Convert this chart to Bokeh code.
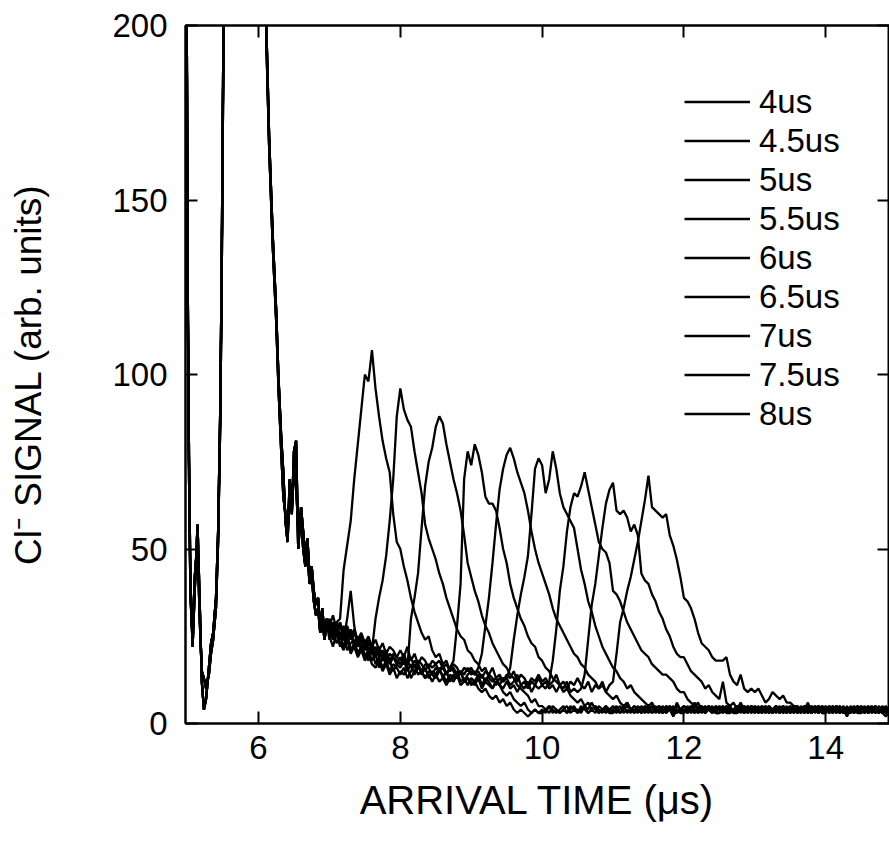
import numpy as np
from bokeh.plotting import figure
from bokeh.models import Range1d, LinearAxis, FixedTicker, Legend, LegendItem, CustomJSTickFormatter
from bokeh.embed import file_html
from bokeh.resources import INLINE

FONT = "Liberation Sans"

LABELS = ["4us", "4.5us", "5us", "5.5us", "6us", "6.5us", "7us", "7.5us", "8us"]
X_TICKS = [6, 8, 10, 12, 14]
Y_TICKS = [0, 50, 100, 150, 200]

# early part of the signal (shared by all traces, two variants)
EARLY_X = [4.97, 4.99, 5.0, 5.02, 5.04, 5.07, 5.1, 5.14, 5.17, 5.2,
           5.23, 5.26, 5.3, 5.33, 5.36, 5.4, 5.43, 5.46, 5.48, 5.5,
           5.52, 5.6, 5.8, 6.0, 6.08, 6.11, 6.15, 6.2, 6.25, 6.28,
           6.32, 6.35, 6.38, 6.41, 6.44, 6.47, 6.5, 6.53, 6.56, 6.6,
           6.63, 6.66, 6.69, 6.72, 6.75, 6.78, 6.81, 6.84, 6.87, 6.9,
           6.93, 6.96]
EARLY_Y1 = [260, 190, 130, 75, 40, 22, 38, 57, 35, 12,
            4, 7, 16, 23, 26, 36, 55, 90, 130, 185,
            240, 500, 700, 500, 260, 200, 168, 140, 118, 100,
            82, 72, 58, 52, 70, 60, 78, 81, 50, 62,
            55, 48, 53, 42, 45, 38, 34, 36, 27, 33,
            25, 30]
EARLY_Y2 = [255, 185, 125, 70, 36, 25, 42, 52, 30, 15,
            13, 10, 14, 20, 24, 33, 52, 86, 125, 180,
            235, 500, 700, 500, 255, 196, 165, 137, 115, 97,
            78, 65, 60, 55, 66, 62, 72, 68, 56, 58,
            50, 45, 49, 40, 42, 35, 31, 33, 26, 30,
            24, 28]

# main part: samples every 0.05 us from 7.00 to 14.95 (10 samples per row = 0.5 us)
T_START = 7.0
T_STEP = 0.05

S_4 = [
    28, 25, 29, 30, 44, 51, 58, 70, 80, 90,
    100, 98, 107, 96, 88, 81, 76, 72, 60, 52,
    50, 45, 41, 36, 32, 29, 26, 24, 25, 21,
    19, 20, 17, 18, 15, 16, 14, 15, 12, 13,
    11, 12, 10, 9, 10, 8, 7, 8, 6, 7,
    5, 6, 4, 3, 4, 3, 2, 3, 4, 3,
    4, 3, 5, 4, 3, 4, 5, 3, 4, 5,
    3, 4, 5, 3, 4, 3, 5, 4, 3, 4,
    5, 4, 3, 4, 6, 4, 3, 5, 4, 3,
    4, 5, 3, 4, 3, 5, 4, 2, 4, 3,
    3, 5, 4, 6, 4, 3, 4, 5, 3, 4,
    4, 3, 4, 5, 3, 4, 6, 4, 5, 3,
    5, 4, 3, 4, 5, 3, 4, 4, 3, 5,
    3, 4, 5, 3, 4, 6, 3, 4, 3, 4,
    4, 3, 4, 5, 4, 3, 5, 3, 4, 3,
    3, 4, 3, 4, 5, 3, 4, 5, 3, 4,
]
S_45 = [
    27, 29, 26, 28, 25, 27, 24, 26, 23, 25,
    22, 24, 21, 30, 36, 41, 48, 58, 70, 88,
    96, 90, 87, 85, 78, 72, 66, 57, 53, 50,
    47, 43, 40, 36, 33, 30, 27, 25, 24, 21,
    20, 18, 17, 15, 16, 13, 12, 13, 11, 9,
    8, 9, 7, 6, 5, 6, 4, 3, 4, 3,
    3, 4, 3, 5, 4, 3, 4, 3, 5, 4,
    4, 3, 5, 4, 6, 4, 3, 4, 5, 3,
    3, 4, 5, 3, 4, 3, 5, 4, 3, 4,
    5, 3, 4, 4, 3, 5, 4, 3, 6, 4,
    4, 3, 5, 3, 4, 4, 3, 5, 4, 3,
    3, 4, 4, 5, 3, 3, 4, 3, 5, 4,
    4, 5, 3, 4, 3, 4, 5, 3, 4, 3,
    4, 3, 4, 3, 5, 4, 3, 5, 4, 3,
    3, 5, 3, 4, 3, 4, 3, 4, 5, 4,
    4, 3, 5, 3, 4, 4, 3, 4, 3, 5,
]
S_5 = [
    29, 26, 28, 24, 27, 25, 26, 22, 24, 21,
    23, 20, 22, 19, 21, 18, 20, 17, 19, 18,
    17, 19, 16, 30, 36, 43, 56, 68, 75, 79,
    85, 88, 86, 80, 75, 70, 66, 61, 54, 46,
    42, 38, 35, 31, 28, 26, 23, 21, 19, 17,
    16, 14, 13, 11, 10, 9, 8, 6, 7, 5,
    5, 4, 5, 3, 4, 3, 4, 5, 3, 4,
    3, 5, 4, 3, 4, 5, 3, 4, 4, 3,
    4, 3, 4, 5, 3, 4, 4, 3, 5, 4,
    3, 4, 5, 3, 4, 3, 4, 5, 3, 4,
    5, 4, 3, 4, 3, 5, 4, 4, 3, 5,
    4, 5, 3, 4, 4, 3, 5, 3, 4, 4,
    3, 4, 4, 3, 5, 4, 3, 4, 5, 3,
    5, 4, 3, 4, 3, 4, 5, 3, 4, 5,
    4, 4, 3, 5, 4, 3, 4, 4, 3, 4,
    5, 3, 4, 4, 3, 5, 4, 3, 4, 3,
]
S_55 = [
    26, 28, 25, 29, 24, 30, 38, 28, 22, 24,
    21, 23, 20, 22, 19, 21, 18, 20, 19, 17,
    19, 17, 18, 16, 18, 17, 15, 17, 16, 14,
    16, 15, 17, 14, 16, 18, 28, 40, 70, 78,
    74, 80, 77, 72, 65, 63, 63, 61, 56, 50,
    46, 40, 36, 33, 30, 28, 25, 23, 22, 19,
    18, 16, 15, 13, 12, 11, 9, 10, 8, 7,
    6, 7, 5, 6, 4, 5, 4, 3, 5, 4,
    4, 5, 3, 4, 5, 4, 3, 4, 3, 5,
    4, 3, 4, 5, 4, 3, 5, 4, 3, 4,
    3, 4, 5, 4, 3, 4, 3, 5, 4, 4,
    5, 4, 3, 3, 4, 5, 4, 3, 4, 5,
    4, 3, 5, 4, 4, 3, 4, 5, 3, 4,
    3, 5, 4, 4, 3, 4, 3, 4, 5, 4,
    5, 4, 3, 4, 5, 3, 4, 3, 4, 5,
    4, 4, 5, 3, 4, 3, 5, 4, 4, 3,
]
S_6 = [
    25, 22, 26, 23, 21, 24, 20, 22, 19, 21,
    18, 20, 17, 16, 18, 15, 17, 14, 16, 13,
    15, 14, 16, 13, 15, 17, 14, 16, 13, 15,
    14, 16, 13, 15, 12, 14, 13, 15, 12, 14,
    15, 14, 16, 20, 28, 36, 46, 57, 67, 73,
    77, 79, 76, 72, 69, 66, 61, 55, 50, 46,
    43, 40, 37, 33, 30, 28, 26, 24, 22, 20,
    19, 17, 16, 14, 13, 12, 10, 11, 9, 8,
    7, 8, 6, 5, 6, 4, 5, 4, 3, 5,
    4, 5, 4, 3, 5, 4, 4, 3, 5, 4,
    4, 3, 4, 5, 4, 5, 3, 4, 4, 3,
    3, 4, 5, 4, 3, 4, 4, 5, 3, 4,
    5, 3, 4, 3, 4, 4, 5, 4, 3, 4,
    4, 4, 3, 5, 4, 3, 4, 4, 5, 3,
    3, 4, 5, 3, 4, 4, 3, 5, 4, 4,
    4, 5, 3, 4, 4, 3, 4, 3, 5, 4,
]
S_65 = [
    27, 24, 26, 22, 25, 21, 23, 24, 20, 22,
    19, 21, 18, 20, 16, 19, 17, 18, 15, 17,
    16, 18, 15, 17, 14, 16, 15, 13, 15, 14,
    13, 15, 14, 12, 14, 13, 15, 12, 13, 11,
    13, 12, 14, 11, 13, 12, 10, 12, 11, 13,
    13, 16, 24, 31, 37, 42, 48, 60, 73, 76,
    74, 66, 70, 78, 73, 66, 62, 60, 58, 56,
    50, 44, 40, 35, 32, 28, 25, 22, 20, 18,
    16, 15, 13, 12, 10, 11, 9, 8, 7, 6,
    5, 6, 4, 5, 3, 4, 5, 3, 4, 4,
    5, 4, 4, 3, 5, 4, 3, 4, 5, 3,
    4, 3, 5, 4, 4, 3, 4, 5, 4, 3,
    4, 4, 3, 5, 3, 4, 4, 3, 5, 4,
    3, 4, 4, 3, 4, 5, 3, 4, 4, 5,
    4, 3, 4, 4, 5, 3, 4, 4, 3, 4,
    3, 4, 4, 5, 3, 4, 3, 4, 4, 3,
]
S_7 = [
    24, 27, 23, 25, 22, 26, 21, 23, 20, 22,
    20, 18, 21, 17, 19, 16, 18, 15, 17, 16,
    14, 16, 13, 15, 17, 14, 15, 13, 14, 12,
    14, 12, 13, 11, 13, 12, 14, 11, 12, 13,
    12, 11, 13, 10, 12, 11, 10, 12, 11, 10,
    12, 10, 11, 9, 11, 10, 12, 9, 11, 10,
    11, 10, 12, 18, 27, 38, 45, 55, 62, 66,
    65, 68, 72, 67, 62, 57, 52, 50, 49, 46,
    38, 37, 35, 32, 29, 27, 25, 23, 21, 20,
    19, 17, 16, 15, 14, 14, 13, 12, 10, 9,
    9, 7, 6, 5, 6, 4, 5, 4, 3, 5,
    4, 5, 4, 3, 4, 5, 3, 4, 4, 5,
    3, 4, 5, 4, 3, 4, 5, 3, 4, 4,
    5, 3, 4, 4, 5, 3, 4, 5, 3, 4,
    4, 5, 4, 3, 4, 5, 3, 4, 4, 3,
    5, 4, 3, 4, 5, 4, 4, 3, 4, 5,
]
S_75 = [
    30, 27, 29, 25, 28, 24, 27, 23, 25, 22,
    24, 21, 23, 20, 22, 19, 21, 18, 20, 19,
    18, 20, 17, 19, 16, 18, 17, 15, 17, 16,
    17, 15, 16, 14, 16, 15, 13, 15, 14, 16,
    14, 15, 13, 14, 12, 14, 13, 11, 13, 12,
    13, 11, 12, 14, 11, 12, 10, 12, 11, 13,
    11, 12, 10, 11, 9, 11, 10, 12, 9, 10,
    9, 10, 14, 24, 34, 40, 48, 56, 63, 67,
    69, 61, 60, 61, 59, 55, 57, 54, 43, 41,
    40, 37, 35, 32, 30, 27, 25, 22, 20, 19,
    19, 17, 15, 14, 13, 12, 10, 11, 9, 8,
    7, 12, 6, 5, 6, 4, 5, 4, 3, 5,
    4, 3, 4, 5, 4, 3, 4, 4, 5, 3,
    4, 5, 3, 4, 4, 3, 5, 4, 3, 4,
    3, 4, 4, 5, 3, 4, 4, 3, 4, 5,
    4, 3, 4, 4, 5, 3, 4, 4, 3, 4,
]
S_8 = [
    28, 31, 27, 29, 26, 28, 25, 27, 24, 26,
    23, 25, 22, 24, 21, 23, 20, 22, 21, 19,
    21, 19, 22, 18, 20, 17, 19, 18, 16, 18,
    17, 18, 16, 17, 15, 17, 16, 14, 16, 15,
    16, 14, 15, 13, 15, 14, 16, 13, 14, 12,
    14, 13, 15, 12, 14, 13, 11, 13, 12, 14,
    12, 13, 11, 12, 14, 11, 12, 10, 12, 11,
    13, 11, 10, 12, 9, 11, 10, 12, 9, 11,
    12, 20, 29, 33, 38, 42, 47, 52, 58, 64,
    71, 62, 61, 60, 59, 60, 54, 51, 47, 42,
    36, 35, 33, 30, 26, 23, 22, 21, 19, 18,
    18, 18, 19, 14, 12, 11, 14, 10, 9, 10,
    9, 10, 8, 6, 7, 9, 8, 7, 8, 6,
    6, 5, 5, 4, 5, 4, 3, 4, 5, 3,
    4, 3, 5, 4, 3, 4, 2, 4, 3, 4,
    3, 4, 3, 5, 3, 4, 3, 2, 4, 3,
]

SERIES = [S_4, S_45, S_5, S_55, S_6, S_65, S_7, S_75, S_8]

p = figure(width=889, height=850,
           x_range=Range1d(4.97, 14.9), y_range=Range1d(0, 200),
           output_backend="svg", toolbar_location=None,
           min_border_left=185, min_border_right=0,
           min_border_top=25, min_border_bottom=127)
p.grid.visible = False
p.outline_line_color = "black"
p.outline_line_width = 2
p.background_fill_color = "white"
p.border_fill_color = "white"

items = []
for i, (lab, s) in enumerate(zip(LABELS, SERIES)):
    t_main = [round(T_START + T_STEP * k, 2) for k in range(len(s))]
    early = EARLY_Y1 if i % 2 == 0 else EARLY_Y2
    xs = list(EARLY_X) + t_main
    ys = list(early) + list(s)
    r = p.line(xs, ys, line_color="black", line_width=2.3)
    items.append(LegendItem(label=lab, renderers=[r]))

def style_axis(ax, ticks, show_labels=True):
    ax.ticker = FixedTicker(ticks=ticks)
    ax.axis_line_width = 2
    ax.axis_line_color = "black"
    ax.major_tick_line_width = 2
    ax.major_tick_line_color = "black"
    ax.major_tick_in = 12
    ax.major_tick_out = 0
    ax.minor_tick_in = 0
    ax.minor_tick_out = 0
    ax.major_label_text_font = FONT
    ax.major_label_text_color = "black"
    ax.major_label_text_font_size = "33px"
    if not show_labels:
        ax.formatter = CustomJSTickFormatter(code="return '';")
        ax.major_label_standoff = 0

xax = p.xaxis[0]
yax = p.yaxis[0]
style_axis(xax, X_TICKS)
style_axis(yax, Y_TICKS)
xax.major_label_standoff = 12
yax.major_label_standoff = 18
xax.axis_label = "ARRIVAL TIME (\u03bcs)"
yax.axis_label = "Cl\u207b SIGNAL (arb. units)"
for ax in (xax, yax):
    ax.axis_label_text_font = FONT
    ax.axis_label_text_font_style = "normal"
    ax.axis_label_text_color = "black"
xax.axis_label_text_font_size = "40px"
yax.axis_label_text_font_size = "37px"
xax.axis_label_standoff = 16
yax.axis_label_standoff = 60

top = LinearAxis()
style_axis(top, X_TICKS, show_labels=False)
p.add_layout(top, "above")
right = LinearAxis()
style_axis(right, Y_TICKS, show_labels=False)
p.add_layout(right, "right")

legend = Legend(items=items, location=(499, 290),
                glyph_width=66, glyph_height=39, label_height=39,
                spacing=0, padding=0, margin=0, label_standoff=9,
                label_text_font=FONT, label_text_font_size="33px",
                label_text_color="black",
                background_fill_alpha=0, border_line_color=None)
p.add_layout(legend)

open("out.html", "w").write(file_html(p, INLINE))
